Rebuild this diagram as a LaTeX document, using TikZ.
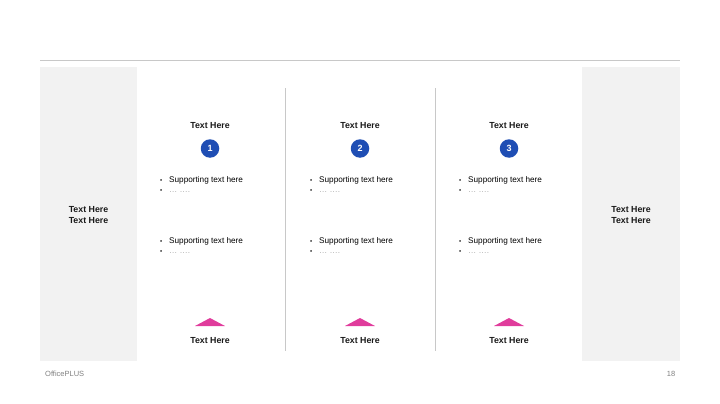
\documentclass[tikz,border=0pt]{standalone}
\usepackage{fontspec}
\setmainfont{Liberation Sans}
\usetikzlibrary{positioning}
\definecolor{panelgray}{HTML}{F2F2F2}
\definecolor{rulegray}{HTML}{C8C8C8}
\definecolor{numblue}{HTML}{1F4EB4}
\definecolor{pinkmark}{HTML}{E03C9C}
\definecolor{dotgray}{HTML}{A6A6A6}
\tikzset{
  head/.style={font=\bfseries\fontsize{8.8}{10.5}\selectfont, text=black!90},
  numdot/.style={circle, fill=numblue, minimum size=18.5pt, inner sep=0pt, text=white, font=\bfseries\fontsize{9}{10}\selectfont},
  support/.style={anchor=west, align=left, inner sep=0pt, font=\fontsize{8.2}{10}\selectfont},
  foot/.style={font=\fontsize{7.5}{9}\selectfont, text=gray, inner sep=0pt}
}
\newcommand{\bul}[1]{\makebox[9pt][l]{\scalebox{0.75}{\textbullet}}#1}

\begin{document}
\begin{tikzpicture}[x=1pt,y=-1pt]
 \useasboundingbox (0,0) rectangle (720,404);
 \draw[rulegray, line width=1pt] (40,61) -- (680,61);
 \fill[panelgray] (40,67) rectangle (137,361);
 \fill[panelgray] (582,67) rectangle (680,361);
 \node[head, align=center] (lefttxt) at (88.5,214.8) {Text Here\\Text Here};
 \node[head, align=center] (righttxt) at (631,214.8) {Text Here\\Text Here};
	\foreach \sx in {285.5,435.5} \draw[rulegray, line width=0.6pt] (\sx,88) -- (\sx,351);
	\foreach \i/\cx in {1/210,2/360,3/509} {
	  \node[head] (title\i) at (\cx,125.8) {Text Here};
	  \node[numdot] (num\i) at (\cx,148.5) {\i};
	  \node[support] (supA\i) at (\cx-50,184.5) {\bul{Supporting text here}\\\bul{\textcolor{dotgray}{\dots{} \dots.}}};
	  \node[support] (supB\i) at (\cx-50,245.5) {\bul{Supporting text here}\\\bul{\textcolor{dotgray}{\dots{} \dots.}}};
	  \fill[pinkmark] (\cx-15,326) -- (\cx,318) -- (\cx+15,326) -- cycle;
	  \node[head] (bottom\i) at (\cx,340.8) {Text Here};
	}
 \node[foot, anchor=west] (brand) at (45,373.5) {OfficePLUS};
 \node[foot] (page) at (671,373.5) {18};
\end{tikzpicture}
\end{document}
